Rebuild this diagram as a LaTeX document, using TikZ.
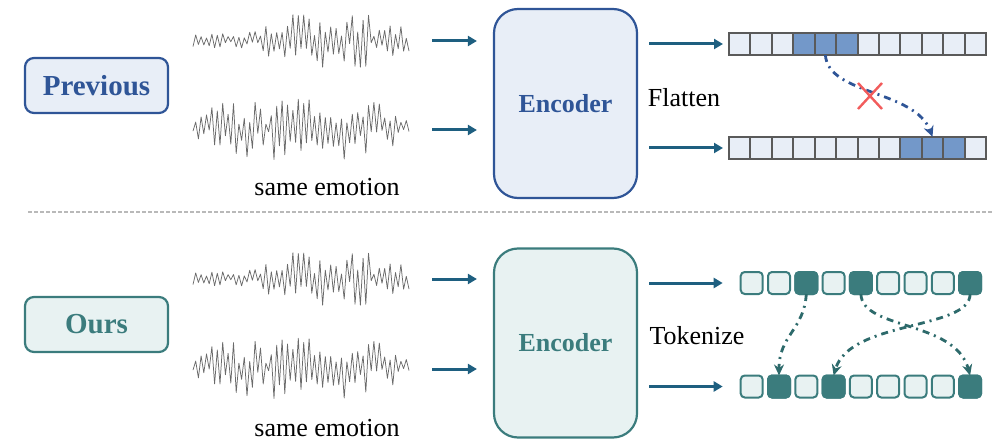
\documentclass[tikz,border=0pt]{standalone}
\usepackage{fontspec}
\setmainfont{Liberation Serif}
\usetikzlibrary{arrows.meta,calc}
\definecolor{pblue}{HTML}{2F5597}
\definecolor{pfill}{HTML}{E8EEF7}
\definecolor{pcell}{HTML}{7398C9}
\definecolor{cellgray}{HTML}{5A5A5A}
\definecolor{tealD}{HTML}{3B7C7D}
\definecolor{tealF}{HTML}{E8F2F2}
\definecolor{tealA}{HTML}{2D6A6B}
\definecolor{arrowc}{HTML}{1E5F80}
\definecolor{redx}{HTML}{F25C5C}
\definecolor{wavec}{HTML}{6A6A6A}
\newcommand\wavedraw[3]{%
  \pgfmathsetseed{#1}%
  \draw[wave] plot[domain=0:80,samples=81] ({193+2.7*\x}, {#2 + (#3)*(1-2*mod(round(\x),2))*(0.1+0.9*rnd)});%
}
\begin{document}
\begin{tikzpicture}[x=1pt,y=-1pt,
  lab/.style={draw,line width=2.2pt,rounded corners=9pt,minimum width=143pt,minimum height=55pt,inner sep=0pt,font=\fontsize{29}{30}\selectfont\bfseries},
  enc/.style={draw,line width=2.2pt,rounded corners=24pt,minimum width=143pt,minimum height=189pt,inner sep=0pt,font=\fontsize{26}{28}\selectfont\bfseries},
  txt/.style={font=\fontsize{26}{28}\selectfont,inner sep=0pt},
  wave/.style={draw=wavec,line width=0.75pt,line join=round},
  arr/.style={draw=arrowc,line width=3pt,-{Triangle[length=9pt,width=10pt]}},
  pcellst/.style={draw=cellgray,line width=2pt,fill=pfill,minimum width=21.42pt,minimum height=22pt,inner sep=0pt,outer sep=0pt},
  tcell/.style={draw=tealD,line width=2pt,fill=tealF,rounded corners=4pt,minimum width=22pt,minimum height=22pt,inner sep=0pt,outer sep=0pt},
  ddp/.style={draw=pblue,line width=2.8pt,dash pattern=on 7pt off 5pt on 2pt off 5pt,-{Stealth[length=11pt,width=10pt]}},
  ddt/.style={draw=tealA,line width=2.8pt,dash pattern=on 7pt off 5pt on 2pt off 5pt,-{Stealth[length=11pt,width=10pt]}},
]
\useasboundingbox (0,0) rectangle (995,446);

% ---------- Previous ----------
\node[lab,draw=pblue,fill=pfill,text=pblue] (prev) at (96.5,85.5) {Previous};
\wavedraw{11}{40}{6+27*exp(-((\x-50)/27)^2)}
\wavedraw{23}{128}{7+25*(1-((\x-40)/40)^4)}
\coordinate (pw1) at (409,41);
\coordinate (pw2) at (409,130);
\node[txt] (pse) at (327,187) {same emotion};
\node[enc,draw=pblue,fill=pfill,text=pblue] (enc1) at (565.5,103.5) {Encoder};
\draw[arr] ([xshift=23pt]pw1) -- ([xshift=-16pt]enc1.west |- pw1);
\draw[arr] ([xshift=23pt]pw2) -- ([xshift=-16pt]enc1.west |- pw2);
\foreach \i in {0,...,11}{
  \node[pcellst] (a\i) at ({739.71+21.42*\i},44) {};
  \node[pcellst] (b\i) at ({739.71+21.42*\i},148) {};
}
\foreach \i in {3,4,5}{\node[pcellst,fill=pcell] at (a\i) {};}
\foreach \i in {8,9,10}{\node[pcellst,fill=pcell] at (b\i) {};}
\draw[arr] ([xshift=11pt]enc1.east |- a0) -- ([xshift=-6pt]a0.west);
\draw[arr] ([xshift=11pt]enc1.east |- b0) -- ([xshift=-6pt]b0.west);
\node[txt] (flat) at (684,98) {Flatten};
\draw[ddp] (a4.south) .. controls (828,95) and (915,90) .. (b9.north);
\coordinate (xc) at (870,96);
\draw[redx,line width=2.4pt] ($(xc)+(-12,-13)$) -- ($(xc)+(12,13)$) ($(xc)+(12,-13)$) -- ($(xc)+(-12,13)$);

% ---------- separator ----------
\draw[gray!55,line width=1.2pt,dash pattern=on 4pt off 2pt] (28,212) -- (992,212);

% ---------- Ours ----------
\node[lab,draw=tealD,fill=tealF,text=tealD] (ours) at (96.5,324.5) {Ours};
\wavedraw{11}{278}{6+27*exp(-((\x-50)/27)^2)}
\wavedraw{23}{367}{7+25*(1-((\x-40)/40)^4)}
\coordinate (ow1) at (409,279);
\coordinate (ow2) at (409,369);
\node[txt] (ose) at (327,428) {same emotion};
\node[enc,draw=tealD,fill=tealF,text=tealD] (enc2) at (565.5,343) {Encoder};
\draw[arr] ([xshift=23pt]ow1) -- ([xshift=-16pt]enc2.west |- ow1);
\draw[arr] ([xshift=23pt]ow2) -- ([xshift=-16pt]enc2.west |- ow2);
\foreach \i in {0,...,8}{
  \node[tcell] (c\i) at ({751.7+27.3*\i},283) {};
  \node[tcell] (d\i) at ({751.7+27.3*\i},386.5) {};
}
\foreach \i in {2,4,8}{\node[tcell,fill=tealD] at (c\i) {};}
\foreach \i in {1,3,8}{\node[tcell,fill=tealD] at (d\i) {};}
\draw[arr] ([xshift=11pt]enc2.east |- c0) -- ([xshift=-18pt]c0.west);
\draw[arr] ([xshift=11pt]enc2.east |- d0) -- ([xshift=-18pt]d0.west);
\node[txt] (tok) at (697,336) {Tokenize};
\draw[ddt] (c2.south) .. controls (804,330) and (779,335) .. (d1.north);
\draw[ddt] (c4.south) .. controls (862,330) and (955,320) .. (d8.north);
\draw[ddt] (c8.south) .. controls (970,330) and (850,320) .. (d3.north);
\end{tikzpicture}
\end{document}
